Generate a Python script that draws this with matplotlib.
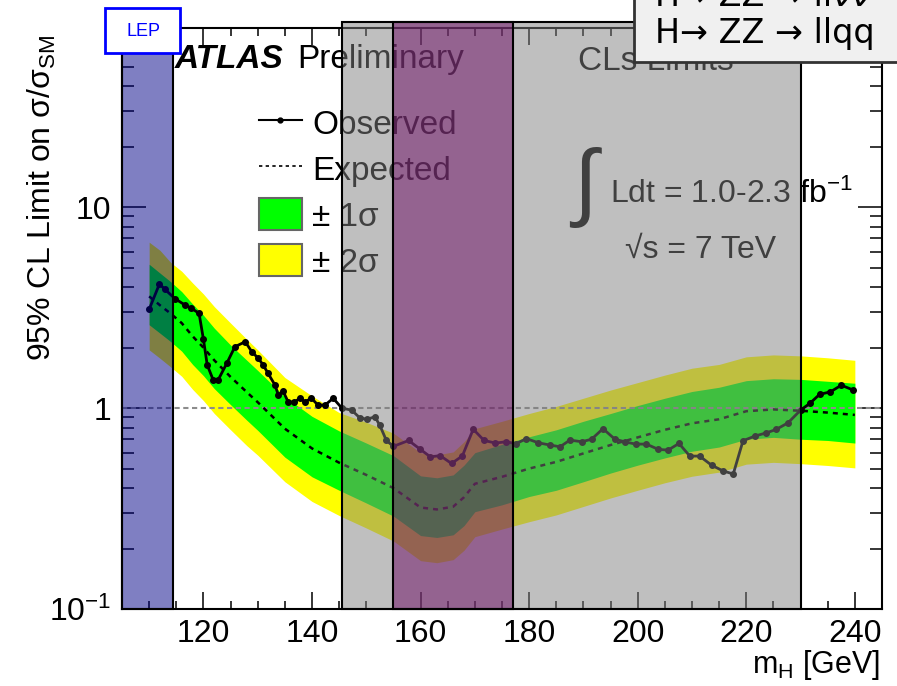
import numpy as np
import matplotlib.pyplot as plt
from matplotlib.patches import Rectangle, Patch
from matplotlib.lines import Line2D
from matplotlib.ticker import MultipleLocator, LogLocator, NullFormatter

plt.rcParams['font.family'] = ['Liberation Sans', 'DejaVu Sans']
plt.rcParams['mathtext.fontset'] = 'custom'
plt.rcParams['mathtext.rm'] = 'Liberation Sans'
plt.rcParams['mathtext.it'] = 'Liberation Sans:italic'

# expected limit and bands
mass_exp = [110, 112, 114, 116, 118, 120, 122, 125, 128, 130, 135, 140, 145, 150, 155,
            160, 163, 166, 168, 170, 175, 180, 185, 190, 195, 200, 205, 210, 215, 220,
            225, 230, 235, 240]
exp_lim = [3.6, 3.25, 2.95, 2.65, 2.28, 2.0, 1.73, 1.43, 1.2, 1.07, 0.79, 0.63, 0.535, 0.465, 0.40,
           0.32, 0.313, 0.323, 0.36, 0.42, 0.455, 0.50, 0.54, 0.595, 0.655, 0.715, 0.78, 0.84, 0.88, 0.965,
           0.985, 0.97, 0.95, 0.925]
g_hi = [5.2, 4.7, 4.25, 3.8, 3.3, 2.9, 2.5, 2.06, 1.73, 1.54, 1.14, 0.91, 0.77, 0.67, 0.58,
        0.46, 0.45, 0.465, 0.52, 0.60, 0.66, 0.72, 0.78, 0.86, 0.94, 1.03, 1.12, 1.21, 1.27, 1.37,
        1.40, 1.39, 1.36, 1.33]
g_lo = [2.6, 2.36, 2.14, 1.92, 1.65, 1.45, 1.25, 1.04, 0.87, 0.775, 0.57, 0.455, 0.39, 0.337, 0.29,
        0.232, 0.227, 0.234, 0.26, 0.305, 0.33, 0.363, 0.39, 0.43, 0.475, 0.52, 0.565, 0.61, 0.64, 0.70,
        0.715, 0.70, 0.69, 0.67]
y_hi = [6.7, 6.1, 5.3, 4.8, 4.2, 3.7, 3.2, 2.65, 2.2, 1.95, 1.42, 1.15, 0.95, 0.85, 0.75,
        0.60, 0.585, 0.605, 0.68, 0.79, 0.86, 0.94, 1.02, 1.12, 1.23, 1.34, 1.46, 1.58, 1.65, 1.80,
        1.84, 1.82, 1.78, 1.73]
y_lo = [1.95, 1.77, 1.6, 1.44, 1.24, 1.09, 0.94, 0.78, 0.65, 0.583, 0.43, 0.343, 0.292, 0.253, 0.218,
        0.174, 0.17, 0.176, 0.196, 0.229, 0.25, 0.272, 0.294, 0.324, 0.357, 0.39, 0.425, 0.458, 0.48, 0.526,
        0.537, 0.529, 0.518, 0.504]

# observed limit
mass_obs = [110, 111.9, 112.9, 114.8, 116.6, 117.8, 119.2, 120.0, 120.7, 121.8, 122.7, 124.3, 125.8,
            127.7, 128.9, 130.1, 131.0, 131.9, 133.2, 133.8, 134.7, 135.6, 136.7, 137.8, 138.7, 139.9,
            141.1, 142.4, 143.9, 145.5, 147.3, 148.8, 150.1, 151.6, 152.5, 153.7, 155.0, 157.8, 159.9,
            161.8, 163.6, 165.7, 167.7, 169.7, 171.7, 173.8, 175.8, 177.6, 179.5, 181.7, 183.8, 185.7,
            187.5, 189.7, 191.5, 193.6, 195.8, 197.6, 199.6, 201.6, 203.8, 205.6, 207.6, 209.6, 211.4,
            213.6, 215.7, 217.6, 219.4, 221.6, 223.7, 225.5, 227.7, 230.0, 231.7, 233.5, 235.5, 237.5,
            239.7]
obs_lim = [3.1, 4.15, 3.9, 3.5, 3.26, 3.14, 2.96, 2.2, 1.64, 1.38, 1.38, 1.67, 2.02,
           2.14, 1.91, 1.77, 1.64, 1.49, 1.30, 1.16, 1.21, 1.075, 1.07, 1.12, 1.075, 1.12,
           1.035, 1.035, 1.12, 1.0, 0.977, 0.895, 0.88, 0.905, 0.82, 0.69, 0.645, 0.69, 0.625,
           0.572, 0.58, 0.53, 0.578, 0.785, 0.69, 0.67, 0.68, 0.665, 0.705, 0.672, 0.655, 0.642,
           0.693, 0.68, 0.70, 0.79, 0.70, 0.68, 0.662, 0.662, 0.623, 0.618, 0.667, 0.577, 0.577,
           0.52, 0.487, 0.47, 0.688, 0.726, 0.753, 0.783, 0.845, 0.977, 1.055, 1.17, 1.205, 1.30,
           1.23]

# excluded regions: LEP, CLs, Tevatron
regions = [(105, 114.4, (0.0, 0.0, 0.53, 0.5)),
           (145.5, 230, (0.5, 0.5, 0.5, 0.5)),
           (155, 177, (0.42, 0.03, 0.39, 0.5))]

W, H = 897, 686
fig = plt.figure(figsize=(W / 100, H / 100), dpi=100)
ax = fig.add_axes([122 / W, 1 - 609 / H, 760 / W, 581 / H])


def px(x, y):
    return x / W, 1 - y / H


ax.fill_between(mass_exp, y_lo, y_hi, color='#ffff00', lw=0, zorder=1)
ax.fill_between(mass_exp, g_lo, g_hi, color='#00ff00', lw=0, zorder=1.1)
ax.axhline(1, color='#8c8c8c', lw=1.5, ls=(0, (2.5, 1.7)), zorder=2)
ax.plot(mass_exp, exp_lim, color='k', lw=1.8, ls=(0, (2, 2)), zorder=3)
ax.plot(mass_obs, obs_lim, color='k', lw=2, marker='o', ms=4, zorder=4)

for x0, x1, col in regions:
    ax.add_patch(Rectangle((x0, 0), x1 - x0, 1.0103, transform=ax.get_xaxis_transform(),
                           facecolor=col, edgecolor='k', lw=1.5, zorder=10, clip_on=False))

ax.set_yscale('log')
ax.set_xlim(105, 245)
ax.set_ylim(0.1, 78)
ax.set_xticks([120, 140, 160, 180, 200, 220, 240])
ax.xaxis.set_minor_locator(MultipleLocator(5))
ax.set_yticks([0.1, 1, 10], ['10$^{\\mathregular{-1}}$', '1', '10'])
ax.yaxis.set_minor_locator(LogLocator(subs=np.arange(2, 10)))
ax.yaxis.set_minor_formatter(NullFormatter())
ax.tick_params(which='both', direction='in', top=True, right=True, width=1.1, labelsize=23)
ax.tick_params(axis='x', which='major', length=12, pad=7)
ax.tick_params(axis='x', which='minor', length=6)
ax.tick_params(axis='y', which='major', length=17, pad=8)
ax.tick_params(axis='y', which='minor', length=8.5)
for s in ax.spines.values():
    s.set_linewidth(1.5)

handles = [Line2D([], [], color='k', lw=1.5, marker='o', ms=3.5),
           Line2D([], [], color='k', lw=1.2, ls=(0, (2, 2))),
           Patch(fc='#00ff00', ec='#666666', lw=1.5),
           Patch(fc='#ffff00', ec='#666666', lw=1.5)]
leg = ax.legend(handles, ['Observed', 'Expected', '± 1σ', '± 2σ'], loc='upper left',
                bbox_to_anchor=(0.18, 0.865), frameon=False, fontsize=24, handlelength=1.3,
                handleheight=1.1, handletextpad=0.3, labelspacing=0.35, borderpad=0,
                borderaxespad=0)
leg.set_zorder(5)

ax.text(*px(175, 68), 'ATLAS', transform=fig.transFigure, fontsize=24, fontweight='bold',
        fontstyle='italic', va='baseline', zorder=5)
ax.text(*px(297, 68), 'Preliminary', transform=fig.transFigure, fontsize=24, va='baseline', zorder=5)
ax.text(*px(578, 70), 'CLs Limits', transform=fig.transFigure, fontsize=24, va='baseline', zorder=5)
ax.text(*px(586, 188), r'$\int$', transform=fig.transFigure, fontsize=62, ha='center', va='center', zorder=5)
ax.text(*px(610, 203), 'Ldt = 1.0-2.3 fb$^{\\mathregular{-1}}$', transform=fig.transFigure,
        fontsize=23, va='baseline', zorder=5)
ax.text(*px(625, 258), '√s = 7 TeV', transform=fig.transFigure, fontsize=23, va='baseline', zorder=5)

fig.text(*px(42, 35), '95% CL Limit on σ/σ$_{\\mathregular{SM}}$', rotation=90, ha='center', va='top',
         fontsize=23)
fig.text(*px(880, 673), 'm$_{\\mathregular{H}}$ [GeV]', ha='right', va='baseline', fontsize=22)

fig.add_artist(Rectangle(px(105, 53), 75 / W, 45 / H, transform=fig.transFigure, fc='white',
                         ec='#0000ff', lw=2, zorder=20))
fig.text(*px(143, 31), 'LEP', color='#0000ff', fontsize=13, ha='center', va='center', zorder=21)

fig.add_artist(Rectangle(px(634, 62), 300 / W, 80 / H, transform=fig.transFigure, fc='#f0f0f0',
                         ec='#333333', lw=2, zorder=20))
fig.text(*px(655, 43), 'H→ ZZ → llqq', fontsize=24, family='DejaVu Sans', va='baseline', zorder=21)
fig.text(*px(655, 6), 'H→ ZZ → llνν', fontsize=24, family='DejaVu Sans', va='baseline', zorder=21)

fig.savefig('out.png', dpi=100)
